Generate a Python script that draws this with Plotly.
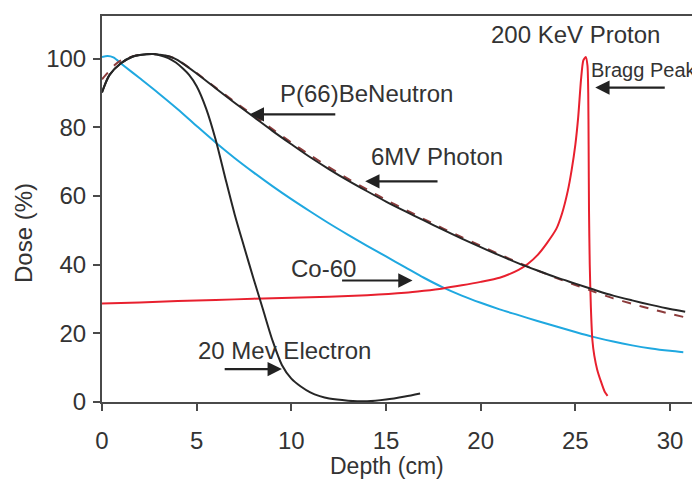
import plotly.graph_objects as go

# ---- data ----
photon_depth = [0, 0.4, 1, 1.6, 2, 2.7, 3, 3.6, 4, 5, 6, 7, 8, 9, 10, 11, 12, 13, 14, 15, 16, 17, 18, 19, 20, 21, 22, 23, 24, 25, 26, 27, 28, 29, 30, 30.8]
photon_dose = [90.2, 95.3, 98.7, 100.6, 101.1, 101.4, 101.2, 100.6, 99.6, 95.7, 91.4, 87.2, 83.1, 79, 75.1, 71.3, 67.8, 64.5, 61.4, 58.4, 55.6, 52.9, 50.2, 47.6, 45.1, 42.7, 40.4, 38.3, 36.3, 34.5, 32.7, 31, 29.6, 28.3, 27.1, 26.3]

neutron_depth = [0, 0.2, 0.7, 1, 1.6, 2, 2.7, 3, 3.6, 4, 5, 6, 7, 8, 9, 10, 11, 12, 13, 14, 15, 16, 17, 18, 19, 20, 21, 22, 23, 24, 25, 26, 27, 28, 29, 30, 30.7]
neutron_dose = [94, 95.3, 98.3, 99.5, 100.7, 101.2, 101.4, 101.2, 100.6, 99.6, 95.8, 91.6, 87.5, 83.5, 79.5, 75.6, 71.9, 68.4, 65, 61.9, 58.9, 56.1, 53.3, 50.6, 48, 45.5, 43, 40.6, 38.3, 36.1, 34.1, 32.1, 30.2, 28.6, 27.1, 25.7, 24.8]

co60_depth = [0, 0.3, 0.6, 1.1, 2, 3, 4, 5, 6, 7, 8, 9, 10, 11, 12, 13, 14, 15, 16, 17, 18, 19, 20, 21, 22, 23, 24, 25, 26, 27, 28, 29, 30, 30.7]
co60_dose = [100.5, 100.8, 100.4, 98.2, 94.3, 89.9, 85.3, 80.4, 75.6, 71.1, 66.9, 62.9, 59.1, 55.5, 52, 48.7, 45.5, 42.4, 39.3, 36.2, 33.4, 31, 28.9, 27, 25.3, 23.6, 22, 20.4, 18.9, 17.6, 16.5, 15.6, 14.9, 14.5]

electron_depth = [0, 0.4, 1, 1.6, 2, 2.7, 3, 3.5, 3.9, 4.3, 4.6, 5, 5.5, 6, 6.5, 7, 7.5, 8, 8.5, 9, 9.5, 10, 10.5, 11, 11.5, 12, 13, 14, 15, 16, 16.8]
electron_dose = [90.2, 95.3, 98.7, 100.6, 101.1, 101.4, 101.1, 100.2, 98.9, 97, 95.3, 92, 85.5, 76.5, 65.5, 54.8, 45.3, 36, 27, 18, 10.8, 6.8, 4.5, 2.8, 1.7, 1.0, 0.4, 0.2, 0.7, 1.6, 2.5]

proton_depth = [0, 2, 4, 6, 8, 10, 12, 14, 16, 17, 18, 19, 20, 21, 22, 22.5, 23, 23.5, 24, 24.3, 24.6, 24.8, 25.0, 25.15, 25.3, 25.42, 25.55, 25.64, 25.68, 25.7, 25.72, 25.76, 25.82, 25.9, 26.0, 26.15, 26.35, 26.55, 26.7]
proton_dose = [28.7, 29, 29.4, 29.7, 30.1, 30.4, 30.7, 31.1, 31.8, 32.4, 33.1, 34, 35, 36.2, 38.5, 40.3, 42.8, 46.3, 50.5, 55, 61.5, 67.5, 75, 83, 94, 99.5, 100.5, 98, 90, 75, 56, 40, 27.5, 18, 13.5, 9.5, 6, 3, 1.8]

x_ticks = [0, 5, 10, 15, 20, 25, 30]
y_ticks = [0, 20, 40, 60, 80, 100]

FONT = "Arial, Liberation Sans, Helvetica, sans-serif"
TXT = "#333333"

fig = go.Figure()
fig.add_trace(go.Scatter(x=co60_depth, y=co60_dose, mode="lines", name="Co-60",
                         line=dict(color="#1fa8e0", width=2, shape="spline", smoothing=0.8)))
fig.add_trace(go.Scatter(x=proton_depth, y=proton_dose, mode="lines", name="200 KeV Proton",
                         line=dict(color="#e8202e", width=2, shape="spline", smoothing=0.6)))
fig.add_trace(go.Scatter(x=neutron_depth, y=neutron_dose, mode="lines", name="P(66)BeNeutron",
                         line=dict(color="#8c3b3b", width=2, dash="dash", shape="spline", smoothing=0.8)))
fig.add_trace(go.Scatter(x=photon_depth, y=photon_dose, mode="lines", name="6MV Photon",
                         line=dict(color="#262626", width=2, shape="spline", smoothing=0.8)))
fig.add_trace(go.Scatter(x=electron_depth, y=electron_dose, mode="lines", name="20 Mev Electron",
                         line=dict(color="#262626", width=2, shape="spline", smoothing=0.8)))

labels = [
    ("P(66)BeNeutron", 13.95, 89.9, 24),
    ("6MV Photon", 17.7, 71.6, 24),
    ("200 KeV Proton", 25.0, 107.2, 24),
    ("Bragg Peak", 28.6, 96.8, 20),
    ("Co-60", 11.7, 38.8, 24),
    ("20 Mev Electron", 9.63, 15.1, 24),
]
annotations = []
for text, x, y, size in labels:
    annotations.append(dict(text=text, x=x, y=y, xref="x", yref="y", showarrow=False,
                            xanchor="center", yanchor="middle", borderpad=0,
                            font=dict(family=FONT, size=size, color=TXT)))

arrows = [  # (tip x, tip y, tail x, tail y)
    (7.8, 83.8, 12.4, 83.8),
    (13.9, 64.3, 17.8, 64.3),
    (26.05, 91.6, 29.8, 91.6),
    (16.4, 35.4, 12.6, 35.4),
    (9.5, 9.6, 6.4, 9.6),
]
for tx, ty, sx, sy in arrows:
    annotations.append(dict(text="", x=tx, y=ty, ax=sx, ay=sy, xref="x", yref="y",
                            axref="x", ayref="y", showarrow=True, arrowhead=2,
                            arrowsize=1.3, arrowwidth=2.2, arrowcolor="#222222", standoff=0))

annotations.append(dict(text="Depth (cm)", x=0.483, y=-0.166, xref="paper", yref="paper",
                        showarrow=False, xanchor="center", yanchor="middle", borderpad=0,
                        font=dict(family=FONT, size=23, color=TXT)))
annotations.append(dict(text="Dose (%)", x=-0.132, y=0.438, xref="paper", yref="paper",
                        showarrow=False, xanchor="center", yanchor="middle", textangle=-90,
                        borderpad=0, font=dict(family=FONT, size=24, color=TXT)))

axis_common = dict(showgrid=False, zeroline=False, showline=True, linecolor="#4a4a4a",
                   linewidth=2, mirror=True, ticks="outside", ticklen=7, tickwidth=2,
                   tickcolor="#4a4a4a", tickfont=dict(family=FONT, size=24, color=TXT))

# the page body has an 8px margin, so the figure is 8px smaller and margins shifted
fig.update_layout(
    width=692, height=471,
    margin=dict(l=94, r=6, t=6, b=77),
    paper_bgcolor="white", plot_bgcolor="white",
    showlegend=False,
    annotations=annotations,
    xaxis=dict(range=[0, 31.16], tickvals=x_ticks, ticklabelstandoff=9, **axis_common),
    yaxis=dict(range=[0, 112.46], tickvals=y_ticks, ticklabelstandoff=2, **axis_common),
)

fig.write_html("out.html")
